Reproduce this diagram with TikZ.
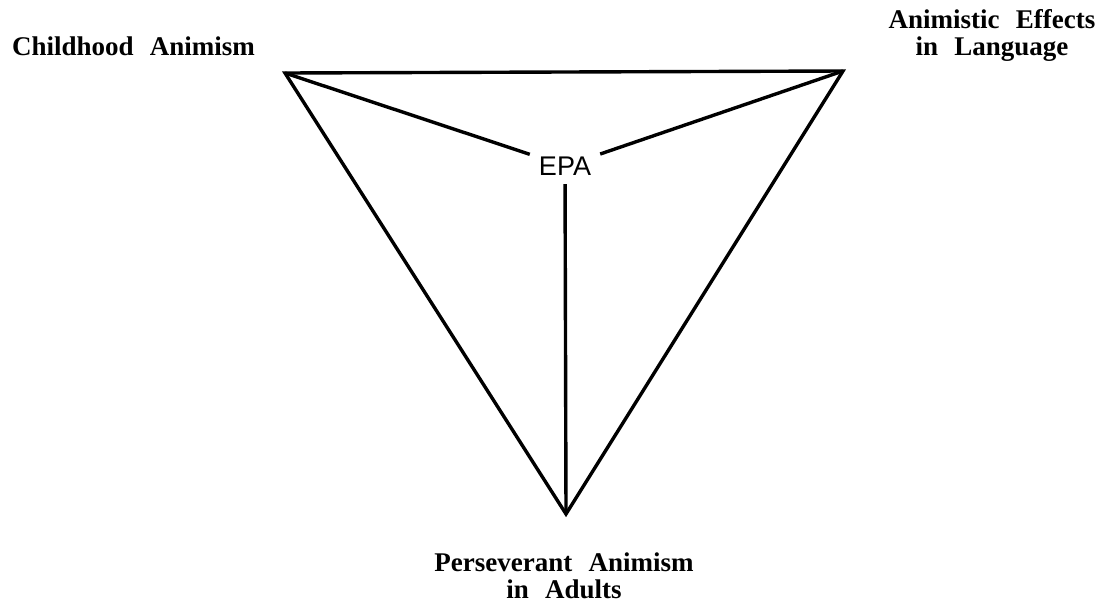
\documentclass[tikz,border=0pt]{standalone}
\usepackage{fontspec}
\setmainfont{Liberation Serif}
\newfontfamily\epafont{Liberation Sans}
\newcommand\widespacing{\spaceskip=0.6em\relax}
\begin{document}
\begin{tikzpicture}[x=1pt,y=-1pt,
  edge/.style={line width=3.4pt,line join=miter,line cap=butt},
  label/.style={inner sep=0pt,font=\bfseries\fontsize{27}{27}\selectfont\widespacing,align=center},
  hub/.style={inner sep=0pt,minimum width=70pt,minimum height=36pt,font=\epafont\fontsize{27}{30}\selectfont}]
\useasboundingbox (0,0) rectangle (1103,606);
\coordinate (tl) at (285,73);
\coordinate (tr) at (843,71);
\coordinate (bt) at (566,514);
\node[hub] (epa) at (565,166) {EPA};
\draw[edge] (tl) -- (tr) -- (bt) -- cycle;
\draw[edge] (tl) -- (epa);
\draw[edge] (tr) -- (epa);
\draw[edge] (bt) -- (epa);
\node[label,anchor=base west] (ca) at (12,55) {Childhood Animism};
\node[label,anchor=base] (ae) at (992,55) {Animistic Effects\\in Language};
\node[label,anchor=base] (pa) at (564,598) {Perseverant Animism\\in Adults};
\end{tikzpicture}
\end{document}
